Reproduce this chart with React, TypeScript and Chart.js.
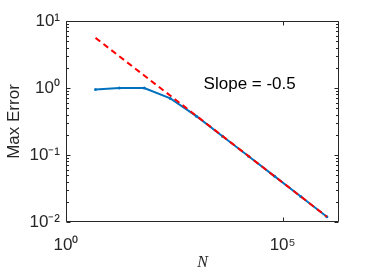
import React, { useEffect, useRef } from 'react';
import { Chart, registerables } from 'chart.js';
Chart.register(...registerables);

const nValues = [4.8, 17, 64, 256, 1024, 4096, 16384, 65536, 262144, 1048576];
const maxError = [0.95, 1.0, 1.0, 0.7, 0.38, 0.19, 0.096, 0.048, 0.024, 0.012];
const slopeN = [4.8, 1048576];
const slopeError = [5.6, 0.012];
const yTicks = [0.01, 0.1, 1, 10];
const xTicks = [1, 1e5];
const slopeLabel = 'Slope = -0.5';
const slopeLabelPos = [1500, 1.13];
const yTitle = 'Max Error';
const xTitle = 'N';

const SUP: Record<string, string> = {
  '0': '⁰', '1': '¹', '2': '²', '3': '³', '4': '⁴', '5': '⁵',
  '6': '⁶', '7': '⁷', '8': '⁸', '9': '⁹', '-': '⁻',
};
function pow10Label(v: number): string {
  const e = Math.round(Math.log10(v));
  return '10' + String(e).split('').map((c) => SUP[c]).join('');
}

const SANS = '"Liberation Sans", Arial, Helvetica, sans-serif';
const AXIS = '#262626';

const boxPlugin = {
  id: 'matlabBox',
  afterDraw(chart: any) {
    const { ctx, chartArea: a, scales } = chart;
    const xs = scales.x;
    const ys = scales.y;
    ctx.save();
    ctx.strokeStyle = AXIS;
    ctx.lineWidth = 1;
    const L = Math.round(a.left) + 0.5;
    const R = Math.round(a.right) - 0.5;
    const T = Math.round(a.top) + 0.5;
    const B = Math.round(a.bottom) - 0.5;
    ctx.beginPath();
    ctx.moveTo(L, T);
    ctx.lineTo(R, T);
    ctx.lineTo(R, B);
    ctx.lineTo(L, B);
    ctx.closePath();
    ctx.stroke();
    ctx.beginPath();
    for (let e = -2; e <= 1; e++) {
      for (let m = 1; m <= 9; m++) {
        const v = m * Math.pow(10, e);
        if (v > 10.0001) break;
        const py = Math.round(ys.getPixelForValue(v)) + 0.5;
        const len = m === 1 ? 4 : 2.5;
        ctx.moveTo(L, py);
        ctx.lineTo(L + len, py);
        ctx.moveTo(R, py);
        ctx.lineTo(R - len, py);
      }
    }
    for (const v of xTicks) {
      const px = Math.round(xs.getPixelForValue(v)) + 0.5;
      ctx.moveTo(px, B);
      ctx.lineTo(px, B - 4);
      ctx.moveTo(px, T);
      ctx.lineTo(px, T + 4);
    }
    ctx.stroke();
    ctx.fillStyle = '#000000';
    ctx.font = '17px ' + SANS;
    ctx.textAlign = 'left';
    ctx.textBaseline = 'middle';
    ctx.fillText(slopeLabel, xs.getPixelForValue(slopeLabelPos[0]), ys.getPixelForValue(slopeLabelPos[1]));
    ctx.restore();
  },
};

export default function App() {
  const ref = useRef<HTMLCanvasElement | null>(null);
  useEffect(() => {
    document.body.style.margin = '0';
    const canvas = ref.current;
    if (!canvas) return;
    const chart = new Chart(canvas, {
      type: 'line',
      data: {
        datasets: [
          {
            label: 'slope',
            data: slopeN.map((n, i) => ({ x: n, y: slopeError[i] })),
            borderColor: '#FF0000',
            borderWidth: 2,
            borderDash: [6, 4],
            pointRadius: 0,
            order: 0,
          },
          {
            label: 'error',
            data: nValues.map((n, i) => ({ x: n, y: maxError[i] })),
            borderColor: '#0072BD',
            backgroundColor: '#0072BD',
            borderWidth: 2,
            pointRadius: 1.5,
            pointBorderWidth: 0,
            order: 1,
          },
        ],
      },
      options: {
        animation: false,
        responsive: false,
        maintainAspectRatio: false,
        layout: { padding: { top: 21, right: 35, left: 0, bottom: 0 } },
        plugins: { legend: { display: false }, tooltip: { enabled: false } },
        scales: {
          x: {
            type: 'logarithmic',
            min: 1,
            max: 2e6,
            afterBuildTicks: (s: any) => {
              s.ticks = xTicks.map((v) => ({ value: v }));
            },
            afterFit: (s: any) => {
              s.height = 58;
            },
            grid: { display: false, drawTicks: false },
            border: { display: false },
            ticks: {
              autoSkip: false,
              maxRotation: 0,
              padding: 13,
              color: AXIS,
              font: { family: SANS, size: 17 },
              callback: (v: any) => pow10Label(Number(v)),
            },
            title: {
              display: true,
              text: xTitle,
              color: AXIS,
              font: { family: '"Liberation Serif", "Times New Roman", serif', size: 16, style: 'italic' },
              padding: { top: 0, bottom: 8 },
            },
          },
          y: {
            type: 'logarithmic',
            min: 0.01,
            max: 10,
            afterBuildTicks: (s: any) => {
              s.ticks = yTicks.map((v) => ({ value: v }));
            },
            afterFit: (s: any) => {
              s.width = 66;
            },
            grid: { display: false, drawTicks: false },
            border: { display: false },
            ticks: {
              autoSkip: false,
              padding: 6,
              color: AXIS,
              font: { family: SANS, size: 17 },
              callback: (v: any) => pow10Label(Number(v)),
            },
            title: {
              display: true,
              text: yTitle,
              color: AXIS,
              font: { family: SANS, size: 17 },
              padding: { top: 4, bottom: 0 },
            },
          },
        },
      },
      plugins: [boxPlugin],
    });
    return () => chart.destroy();
  }, []);
  return (
    <div style={{ width: 374, height: 280 }}>
      <canvas ref={ref} width={374} height={280} style={{ display: 'block' }} />
    </div>
  );
}
